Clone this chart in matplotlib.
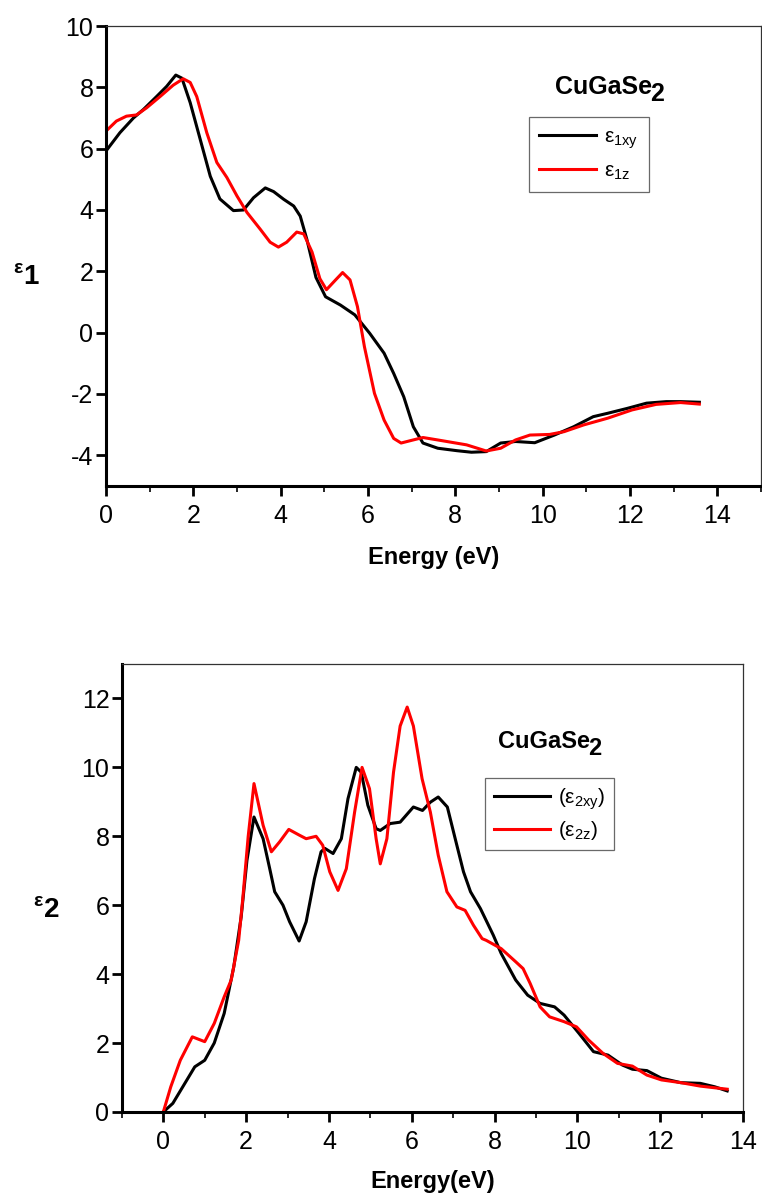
import numpy as np
import matplotlib.pyplot as plt
from matplotlib.ticker import MultipleLocator

plt.rcParams['font.family'] = ['Liberation Sans', 'DejaVu Sans']
plt.rcParams['mathtext.fontset'] = 'custom'
plt.rcParams['mathtext.rm'] = 'Liberation Sans'
plt.rcParams['mathtext.it'] = 'Liberation Sans:italic'
plt.rcParams['mathtext.bf'] = 'Liberation Sans:bold'
plt.rcParams['axes.unicode_minus'] = False

# eps1 (real part), xy component
e1xy_E = [0, 0.32, 0.63, 0.86, 1.16, 1.39, 1.6, 1.74, 1.93, 2.16, 2.39, 2.61, 2.92, 3.15,
          3.38, 3.65, 3.84, 4.07, 4.3, 4.45, 4.6, 4.81, 5.03, 5.37, 5.7, 6.04, 6.37, 6.59,
          6.82, 7.04, 7.26, 7.6, 8.04, 8.37, 8.71, 9.04, 9.38, 9.82, 10.27, 10.71, 11.16,
          11.49, 11.94, 12.38, 12.83, 13.16, 13.59]
e1xy = [5.92, 6.52, 7.0, 7.28, 7.7, 8.03, 8.4, 8.3, 7.5, 6.3, 5.1, 4.36, 3.98, 4.0,
        4.4, 4.72, 4.6, 4.35, 4.13, 3.8, 3.05, 1.8, 1.17, 0.9, 0.58, -0.02, -0.67, -1.33,
        -2.09, -3.07, -3.6, -3.77, -3.85, -3.9, -3.88, -3.6, -3.55, -3.59, -3.34, -3.07, -2.74,
        -2.63, -2.47, -2.3, -2.25, -2.25, -2.27]

# eps1, z component
e1z_E = [0, 0.24, 0.47, 0.7, 0.93, 1.24, 1.54, 1.77, 1.93, 2.08, 2.31, 2.54, 2.77, 3.0,
         3.23, 3.53, 3.76, 3.95, 4.14, 4.37, 4.53, 4.72, 4.9, 5.05, 5.26, 5.42, 5.59, 5.76,
         5.92, 6.15, 6.37, 6.59, 6.76, 6.98, 7.26, 7.6, 7.93, 8.26, 8.71, 9.04, 9.38, 9.71,
         10.16, 10.49, 10.94, 11.49, 12.05, 12.6, 13.16, 13.59]
e1z = [6.57, 6.9, 7.06, 7.1, 7.33, 7.7, 8.07, 8.28, 8.16, 7.7, 6.52, 5.55, 5.06, 4.46,
       3.92, 3.38, 2.95, 2.79, 2.95, 3.28, 3.22, 2.63, 1.76, 1.4, 1.72, 1.96, 1.72, 0.85,
       -0.46, -1.98, -2.85, -3.45, -3.6, -3.52, -3.42, -3.5, -3.58, -3.66, -3.86, -3.77, -3.5, -3.34,
       -3.32, -3.23, -3.01, -2.79, -2.52, -2.34, -2.28, -2.33]

# eps2 (imaginary part), xy component
e2xy_E = [0, 0.23, 0.47, 0.76, 1.0, 1.23, 1.47, 1.7, 1.88, 2.02, 2.19, 2.41, 2.57, 2.69,
          2.89, 3.05, 3.28, 3.45, 3.65, 3.81, 3.9, 4.1, 4.3, 4.46, 4.66, 4.78, 4.94, 5.14,
          5.24, 5.48, 5.72, 6.04, 6.26, 6.45, 6.64, 6.86, 7.05, 7.25, 7.42, 7.66, 7.97, 8.16,
          8.51, 8.8, 9.1, 9.45, 9.68, 10.04, 10.39, 10.74, 11.09, 11.33, 11.68, 12.03, 12.5,
          12.97, 13.32, 13.62]
e2xy = [0, 0.25, 0.73, 1.31, 1.5, 2.0, 2.86, 4.2, 5.66, 7.3, 8.56, 7.93, 7.06, 6.39,
        6.0, 5.52, 4.96, 5.52, 6.77, 7.55, 7.65, 7.5, 7.93, 9.09, 10.0, 9.86, 8.9, 8.22,
        8.17, 8.37, 8.41, 8.85, 8.75, 8.99, 9.14, 8.85, 7.93, 6.97, 6.39, 5.9, 5.13, 4.6,
        3.83, 3.39, 3.15, 3.05, 2.81, 2.28, 1.75, 1.65, 1.36, 1.24, 1.2, 0.98, 0.85,
        0.83, 0.73, 0.61]

# eps2, z component
e2z_E = [0, 0.18, 0.41, 0.7, 1.0, 1.23, 1.47, 1.64, 1.82, 1.92, 2.05, 2.19, 2.41, 2.61,
         2.81, 3.03, 3.29, 3.45, 3.69, 3.85, 4.02, 4.22, 4.42, 4.62, 4.8, 4.98, 5.14, 5.24,
         5.4, 5.56, 5.72, 5.89, 6.04, 6.25, 6.45, 6.64, 6.85, 7.09, 7.29, 7.49, 7.7, 7.8,
         8.16, 8.51, 8.69, 8.86, 9.1, 9.33, 9.68, 9.98, 10.27, 10.62, 10.97, 11.33, 11.68,
         12.03, 12.5, 12.97, 13.62]
e2z = [0, 0.73, 1.5, 2.18, 2.04, 2.57, 3.34, 3.83, 4.98, 6.2, 8.0, 9.53, 8.32, 7.55,
       7.84, 8.2, 8.03, 7.93, 8.0, 7.74, 6.97, 6.43, 7.06, 8.7, 10.0, 9.38, 7.93, 7.2,
       7.93, 9.86, 11.2, 11.75, 11.2, 9.67, 8.7, 7.45, 6.39, 5.95, 5.85, 5.42, 5.03, 4.98,
       4.74, 4.36, 4.16, 3.73, 3.05, 2.76, 2.62, 2.47, 2.09, 1.7, 1.41, 1.33, 1.07,
       0.93, 0.85, 0.75, 0.66]

fig = plt.figure(figsize=(7.62, 11.99), dpi=100)
ax1 = fig.add_axes([0.139, 0.5947, 0.8596, 0.3836])
ax2 = fig.add_axes([0.160, 0.0726, 0.815, 0.3736])


def style(ax):
    for s in ['left', 'bottom']:
        ax.spines[s].set_linewidth(2.2)
        ax.spines[s].set_color('black')
    for s in ['top', 'right']:
        ax.spines[s].set_linewidth(0.9)
        ax.spines[s].set_color('#333333')
    ax.tick_params(which='major', direction='out', length=7, width=2, labelsize=18,
                   top=False, right=False)
    ax.tick_params(axis='y', pad=2)
    ax.tick_params(axis='x', pad=6)
    ax.tick_params(axis='x', which='minor', direction='out', length=4, width=1.2, top=False)
    ax.xaxis.set_major_locator(MultipleLocator(2))
    ax.xaxis.set_minor_locator(MultipleLocator(1))
    ax.yaxis.set_major_locator(MultipleLocator(2))


def title(ax, x, y, size):
    ax.text(x, y, 'CuGaSe', fontsize=size, fontweight='bold', ha='right', va='center')
    ax.annotate('2', xy=(x, y), xytext=(-1.5, -5), textcoords='offset points',
                fontsize=size, fontweight='bold', ha='left', va='center')


# top panel
ax1.plot(e1xy_E, e1xy, color='black', lw=2.2, label=r'$\mathregular{ε_{1xy}}$')
ax1.plot(e1z_E, e1z, color='red', lw=2.2, label=r'$\mathregular{ε_{1z}}$')
ax1.set_xlim(0, 15)
ax1.set_ylim(-5, 10)
style(ax1)
ax1.set_xticks(range(0, 15, 2))
ax1.set_xlabel('Energy (eV)', fontsize=17, fontweight='bold', va='center')
ax1.xaxis.set_label_coords(0.5, -0.155)
ax1.text(-0.122, 0.454, r'$\mathbf{^{\varepsilon}1}$', transform=ax1.transAxes,
         fontsize=20, ha='center', va='center')
title(ax1, 12.5, 8.0, 18)
leg1 = ax1.legend(loc='upper left', bbox_to_anchor=(0.646, 0.802), fontsize=15,
                  frameon=True, fancybox=False, edgecolor='#444444', handlelength=2.7,
                  handletextpad=0.4, borderpad=0.5, labelspacing=0.5, borderaxespad=0)
leg1.get_frame().set_linewidth(0.9)

# bottom panel
ax2.plot(e2xy_E, e2xy, color='black', lw=2.2, label=r'$\mathregular{(ε_{2xy})}$')
ax2.plot(e2z_E, e2z, color='red', lw=2.2, label=r'$\mathregular{(ε_{2z})}$')
ax2.set_xlim(-1, 14)
ax2.set_ylim(0, 13)
style(ax2)
ax2.set_xticks(range(0, 15, 2))
ax2.set_xlabel('Energy(eV)', fontsize=17, fontweight='bold', va='center')
ax2.xaxis.set_label_coords(0.5, -0.156)
ax2.text(-0.121, 0.451, r'$\mathbf{^{\varepsilon}2}$', transform=ax2.transAxes,
         fontsize=20, ha='center', va='center')
title(ax2, 10.31, 10.76, 17)
leg2 = ax2.legend(loc='upper left', bbox_to_anchor=(0.585, 0.7455), fontsize=15,
                  frameon=True, fancybox=False, edgecolor='#444444', handlelength=2.7,
                  handletextpad=0.4, borderpad=0.4, labelspacing=0.35, borderaxespad=0)
leg2.get_frame().set_linewidth(0.9)

fig.savefig('out.png', dpi=100)
